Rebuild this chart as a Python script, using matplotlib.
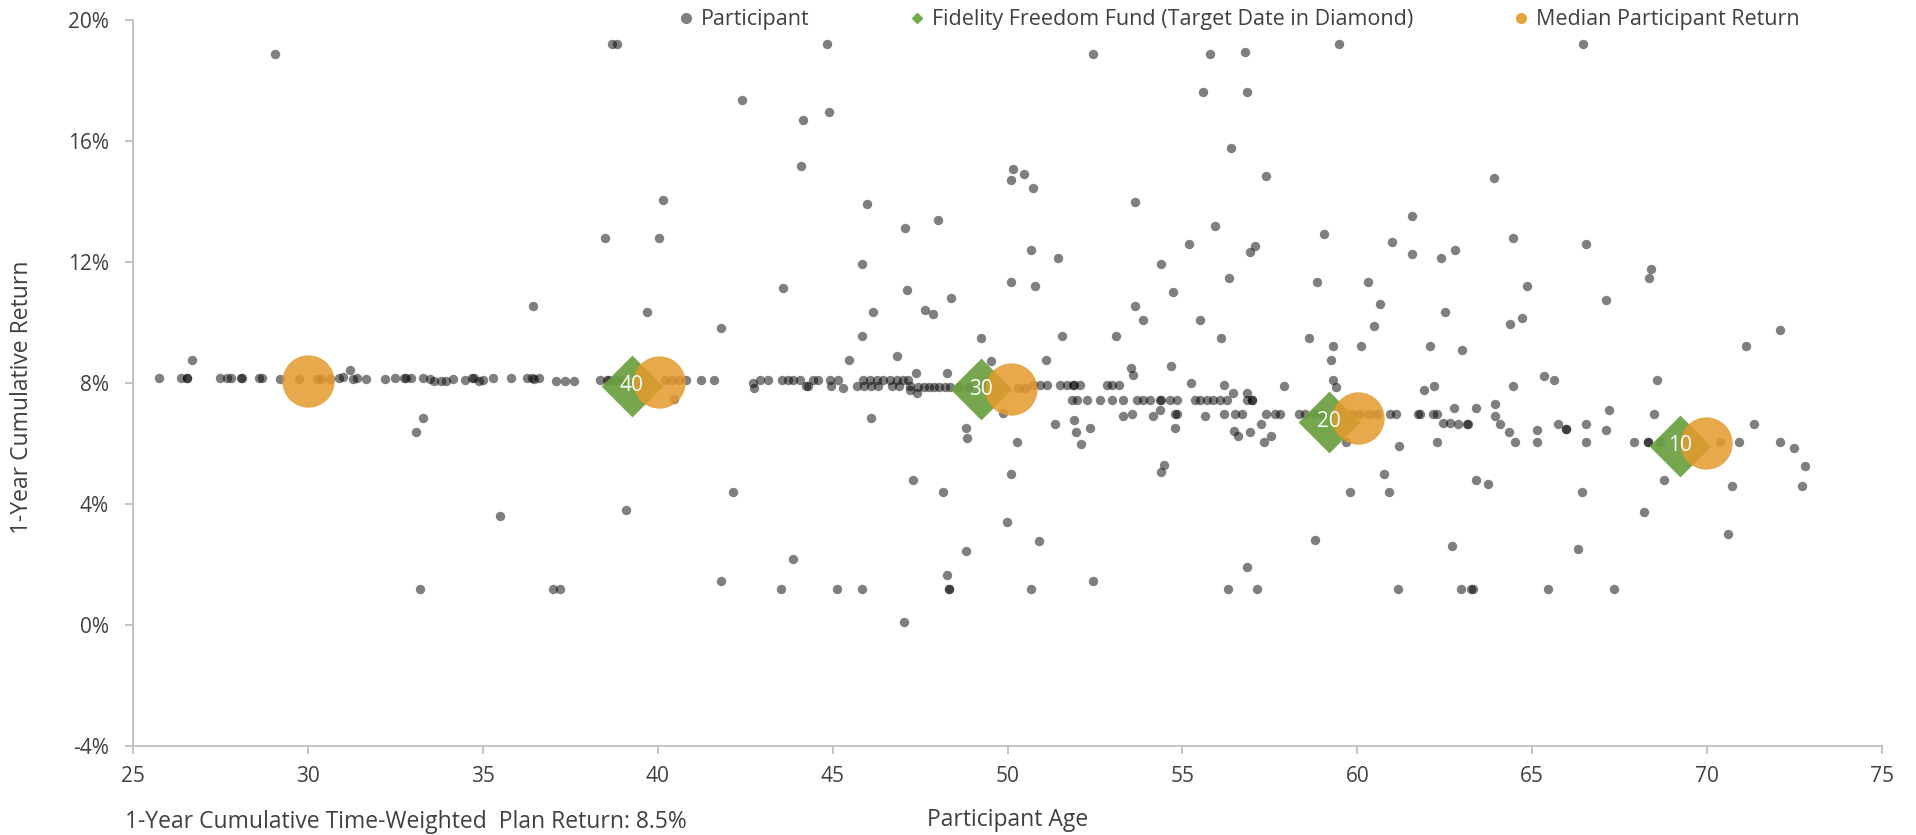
import matplotlib.pyplot as plt
from matplotlib.lines import Line2D
from matplotlib.ticker import FuncFormatter

plt.rcParams['font.family'] = ['Open Sans', 'DejaVu Sans']

# participants sitting in the default-fund band (age, 1-year return %)
band_age = [25.74, 26.37, 26.53, 26.55, 27.5, 27.7, 27.8, 28.09, 28.12, 28.6, 28.7, 29.2, 29.75,
            30.26, 30.38, 30.63, 30.9, 31.0, 31.3, 31.4, 31.66, 32.2, 32.5, 32.75, 32.8, 32.95,
            33.3, 33.5, 33.6, 33.8, 33.95, 34.15, 34.5, 34.7, 34.75, 34.9, 35.0, 35.3, 35.8,
            36.27, 36.4, 36.45, 36.6, 37.1, 37.35, 37.6, 38.35, 38.55, 38.6, 38.8, 39.0, 39.5,
            40.2, 40.4, 40.6, 40.8, 41.25, 41.6,
            42.72, 42.75, 42.92, 43.15, 43.55, 43.73, 43.87, 44.07, 44.24, 44.3, 44.44, 44.58,
            44.93, 44.95, 45.15, 45.3, 45.7, 45.87, 45.9, 46.07, 46.1, 46.27, 46.3, 46.44, 46.64,
            46.7, 46.84, 46.9, 47.0, 47.16, 47.2,
            47.45, 47.6, 47.75, 47.9, 48.05, 48.2, 48.35, 48.6, 48.9, 49.6, 49.9, 50.3, 50.5,
            50.73, 50.93, 51.13, 51.5, 51.7, 51.87, 51.9, 52.07, 52.84, 53.0, 53.2,
            51.84, 51.98, 52.27, 52.65, 52.98, 53.3, 53.7, 53.87, 54.07, 54.36, 54.4, 54.64,
            54.84, 55.36, 55.5, 55.7, 55.87, 56.07, 56.27, 56.84, 56.98,
            54.8, 54.85, 56.2, 56.5, 56.7, 57.4, 57.65, 57.8, 58.33, 58.5, 58.76, 59.0, 59.5,
            59.85, 60.08, 60.33, 60.57, 60.94, 61.1, 61.74, 61.8, 62.17, 62.28,
            62.46, 62.66, 62.88, 63.14, 63.16]
band_ret = [8.15, 8.15, 8.15, 8.15, 8.15, 8.15, 8.15, 8.15, 8.15, 8.15, 8.15, 8.12, 8.12,
            8.12, 8.12, 8.12, 8.15, 8.2, 8.12, 8.15, 8.12, 8.12, 8.18, 8.18, 8.18, 8.18,
            8.18, 8.12, 8.08, 8.05, 8.08, 8.12, 8.1, 8.15, 8.18, 8.08, 8.1, 8.15, 8.15,
            8.18, 8.15, 8.12, 8.15, 8.08, 8.05, 8.05, 8.1, 8.1, 8.1, 8.1, 8.1, 8.1,
            8.1, 8.1, 8.1, 8.1, 8.1, 8.1,
            8.0, 7.85, 8.1, 8.1, 8.1, 8.1, 8.1, 8.1, 7.9, 7.9, 8.1, 8.1,
            8.1, 7.9, 8.1, 7.85, 7.9, 8.1, 7.9, 8.1, 7.9, 8.1, 7.9, 8.1, 8.1,
            7.9, 8.1, 7.9, 8.1, 8.1, 7.9,
            7.88, 7.88, 7.88, 7.88, 7.88, 7.88, 7.88, 7.88, 7.88, 7.85, 7.85, 7.85, 7.85,
            7.93, 7.93, 7.93, 7.93, 7.93, 7.93, 7.93, 7.93, 7.93, 7.93, 7.93,
            7.44, 7.44, 7.44, 7.44, 7.44, 7.44, 7.44, 7.44, 7.44, 7.44, 7.44, 7.44,
            7.44, 7.44, 7.44, 7.44, 7.44, 7.44, 7.44, 7.44, 7.44,
            6.98, 6.98, 6.98, 6.98, 6.98, 6.98, 6.98, 6.98, 6.98, 6.98, 6.98, 6.98, 6.98,
            6.98, 6.98, 6.98, 6.98, 6.98, 6.98, 6.98, 6.98, 6.98, 6.98,
            6.68, 6.68, 6.66, 6.66, 6.66]

# participants away from the band
other_age = [29.06, 38.7, 38.85, 40.16, 38.5, 40.05, 36.43, 39.7, 26.7, 31.2,
             33.3, 33.1, 35.5, 39.1, 33.2, 37.0, 37.2,
             44.84, 42.4, 44.15, 44.9, 44.1, 52.45, 55.8, 56.8, 55.6, 56.85, 56.4, 57.4,
             50.15, 50.47, 50.1, 50.73, 53.65, 45.98, 47.07, 48.0, 55.93, 55.19, 57.07, 56.92,
             50.67, 51.43, 45.83, 54.4, 56.33, 43.58, 50.1, 50.79, 54.73, 47.13, 48.38, 47.64,
             47.87, 53.65, 53.88, 55.5, 46.15, 41.8, 45.83, 49.24, 51.55, 53.09, 56.1, 45.48,
             46.84, 49.54, 51.09, 53.53, 53.6, 54.67, 55.26, 56.2, 57.9, 48.28, 47.37, 40.46,
             59.48, 66.44, 63.9, 61.55, 59.04, 60.98, 64.45, 66.53, 61.55, 62.4, 62.8, 68.4,
             68.35, 58.86, 60.3, 64.85, 60.64, 67.1, 62.5, 60.47, 64.36, 64.7, 72.08, 71.1,
             58.63, 59.3, 60.12, 62.07, 62.98, 59.26, 59.3, 59.4, 61.9, 62.18, 64.45, 65.33,
             65.62, 68.57, 62.77, 63.38, 63.95, 67.2,
             46.1, 48.8, 48.85, 50.27, 51.36, 51.9, 51.96, 52.1, 52.36, 54.8, 56.47, 56.6,
             56.92, 57.26, 57.33, 57.53, 54.39, 54.47, 50.11, 47.3, 48.16, 42.15, 49.98, 50.9,
             48.8, 43.87, 41.81, 43.53, 45.14, 45.83, 48.27, 48.34, 48.34, 50.67, 52.45, 56.3,
             57.14, 56.85, 47.03,
             61.15, 62.96, 63.25, 63.3, 65.45, 67.33, 58.8, 62.7, 66.3, 70.6, 68.2, 59.78,
             60.92, 60.76, 63.38, 63.74, 66.42, 68.76, 70.7, 72.7, 72.8, 72.48, 72.08, 71.33,
             70.9, 70.37, 67.9, 68.3, 68.3, 68.66, 68.48, 67.1, 66.53, 66.53, 65.73, 65.98,
             65.98, 65.15, 65.15, 64.34, 64.52, 63.95, 64.07, 62.28, 61.2, 59.67,
             49.88, 47.2, 47.4, 56.45, 56.84, 57.0, 53.3, 53.55, 54.16, 54.36, 55.66]
other_ret = [18.88, 19.2, 19.2, 14.05, 12.79, 12.79, 10.55, 10.35, 8.76, 8.43,
             6.85, 6.38, 3.6, 3.8, 1.19, 1.19, 1.19,
             19.2, 17.36, 16.7, 16.95, 15.17, 18.88, 18.88, 18.94, 17.62, 17.62, 15.78, 14.84,
             15.07, 14.9, 14.7, 14.44, 13.98, 13.92, 13.12, 13.39, 13.19, 12.6, 12.53, 12.33,
             12.4, 12.13, 11.93, 11.93, 11.47, 11.14, 11.34, 11.2, 11.0, 11.07, 10.8, 10.41,
             10.28, 10.55, 10.08, 10.08, 10.35, 9.82, 9.55, 9.49, 9.55, 9.55, 9.49, 8.76,
             8.89, 8.73, 8.76, 8.5, 8.26, 8.56, 8.0, 7.93, 7.9, 8.33, 8.33, 7.47,
             19.2, 19.2, 14.78, 13.52, 12.93, 12.67, 12.79, 12.6, 12.26, 12.13, 12.4, 11.76,
             11.47, 11.34, 11.34, 11.2, 10.61, 10.74, 10.35, 9.88, 9.95, 10.15, 9.75, 9.22,
             9.49, 9.22, 9.22, 9.22, 9.09, 8.76, 8.1, 7.87, 7.77, 7.9, 7.9, 8.23,
             8.1, 8.1, 7.17, 7.17, 7.31, 7.1,
             6.85, 6.52, 6.18, 6.05, 6.64, 6.78, 6.38, 5.98, 6.51, 6.51, 6.4, 6.25,
             6.38, 6.64, 6.05, 6.25, 5.06, 5.29, 4.99, 4.79, 4.4, 4.4, 3.4, 2.78,
             2.45, 2.18, 1.45, 1.19, 1.19, 1.19, 1.65, 1.19, 1.19, 1.19, 1.45, 1.19,
             1.19, 1.92, 0.11,
             1.19, 1.19, 1.19, 1.19, 1.19, 1.19, 2.81, 2.62, 2.5, 3.0, 3.74, 4.4,
             4.4, 4.99, 4.79, 4.66, 4.4, 4.79, 4.6, 4.6, 5.26, 5.85, 6.05, 6.64,
             6.05, 6.05, 6.05, 6.05, 6.05, 6.05, 6.98, 6.45, 6.64, 6.05, 6.64, 6.48,
             6.48, 6.45, 6.05, 6.38, 6.05, 6.9, 6.66, 6.05, 5.92, 6.05,
             7.0, 7.77, 7.67, 7.67, 7.67, 7.44, 6.9, 6.98, 6.9, 7.1, 6.9]

# target date funds
fund_age = [39.26, 49.24, 59.2, 69.22]
fund_ret = [7.91, 7.8, 6.72, 5.93]
fund_label = ['40', '30', '20', '10']

# median return by age
median_age = [30.0, 40.05, 50.09, 60.03, 69.98]
median_ret = [8.05, 8.04, 7.8, 6.84, 6.03]

plan_return = '8.5%'

grey_txt = '#404040'
axis_col = '#BFBFBF'
green = '#6A9F3E'
orange = '#E59A2C'

fig = plt.figure(figsize=(19.16, 8.35), dpi=100)
ax = fig.add_axes([133 / 1916, 1 - 746 / 835, 1749 / 1916, 726 / 835])

ax.scatter(band_age + other_age, band_ret + other_ret, s=46, color='black', alpha=0.5,
           linewidths=0, zorder=2)
ax.scatter(fund_age, fund_ret, s=990, marker='D', color=green, alpha=0.92, linewidths=0, zorder=3)
ax.scatter(median_age, median_ret, s=1420, marker='o', color=orange, alpha=0.85, linewidths=0,
           zorder=4)
for a, r, lab in zip(fund_age, fund_ret, fund_label):
    ax.text(a, r, lab, color='white', fontsize=15, ha='center', va='center', zorder=5)

ax.set_xlim(25, 75)
ax.set_ylim(-4, 20)
ax.set_xticks(range(25, 76, 5))
ax.set_yticks(range(-4, 21, 4))
ax.yaxis.set_major_formatter(FuncFormatter(lambda v, p: f'{v:.0f}%'))

for side in ['top', 'right']:
    ax.spines[side].set_visible(False)
for side in ['left', 'bottom']:
    ax.spines[side].set_color(axis_col)
    ax.spines[side].set_linewidth(1.3)
ax.tick_params(axis='both', colors=axis_col, length=5.5, width=1.3, labelsize=15,
               labelcolor=grey_txt)
ax.tick_params(axis='y', pad=12)
ax.tick_params(axis='x', pad=9)

ax.set_ylabel('1-Year Cumulative Return', fontsize=16.5, color=grey_txt)
ax.yaxis.set_label_coords(-0.0635, 0.48)
ax.set_xlabel('Participant Age', fontsize=16.5, color=grey_txt)
ax.xaxis.set_label_coords(0.5, -0.102)
ax.xaxis.label.set_va('center')
ax.yaxis.label.set_va('center')

fig.text(125 / 1916, 1 - 822 / 835, f'1-Year Cumulative Time-Weighted  Plan Return: {plan_return}',
         fontsize=16.5, color=grey_txt, va='center', ha='left')

handles = [
    Line2D([], [], linestyle='none', marker='o', markersize=7, color='#7F7F7F'),
    Line2D([], [], linestyle='none', marker='D', markersize=5, color='#70AD47'),
    Line2D([], [], linestyle='none', marker='o', markersize=7, color='#E8A23A'),
]
labels = ['Participant', 'Fidelity Freedom Fund (Target Date in Diamond)',
          'Median Participant Return']
leg = ax.legend(handles, labels, ncol=3, loc='center', bbox_to_anchor=(0.632, 1.0),
                frameon=False, fontsize=15.5, handlelength=0.8, handletextpad=0.3,
                columnspacing=4.6, borderpad=0)
for t in leg.get_texts():
    t.set_color(grey_txt)

fig.savefig('out.png', dpi=100)
